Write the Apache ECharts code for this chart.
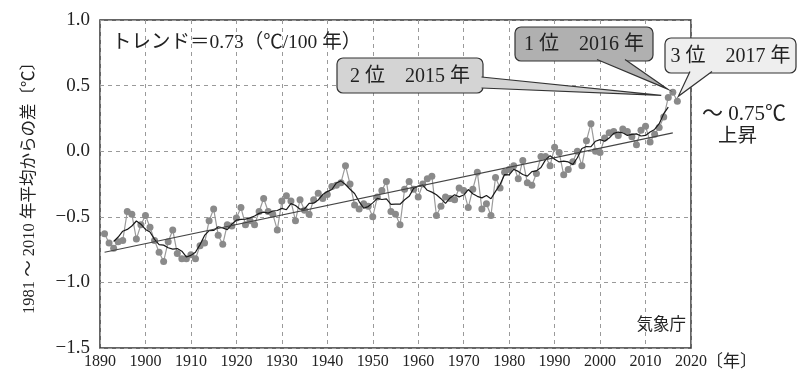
<!DOCTYPE html>
<html>
<head>
<meta charset="utf-8">
<script src="https://cdn.jsdelivr.net/npm/echarts@6/dist/echarts.min.js"></script>
<style>
  html, body { margin: 0; padding: 0; background: #fff; }
  #chart { width: 801px; height: 377px; }
</style>
</head>
<body>
<div id="chart"></div>
<script>
// Global mean surface temperature anomaly (deg C, relative to 1981-2010 mean)
const firstYear = 1891;
const anomalies = [
  -0.63, -0.70, -0.74, -0.69, -0.68, -0.46, -0.48, -0.67, -0.56, -0.49, // 1891-1900
  -0.58, -0.68, -0.77, -0.84, -0.69, -0.60, -0.78, -0.82, -0.82, -0.79, // 1901-1910
  -0.82, -0.72, -0.70, -0.53, -0.44, -0.64, -0.71, -0.56, -0.57, -0.51, // 1911-1920
  -0.43, -0.56, -0.53, -0.56, -0.46, -0.36, -0.46, -0.48, -0.60, -0.38, // 1921-1930
  -0.34, -0.38, -0.53, -0.37, -0.45, -0.48, -0.37, -0.32, -0.36, -0.33, // 1931-1940
  -0.27, -0.26, -0.24, -0.11, -0.25, -0.41, -0.44, -0.40, -0.42, -0.50, // 1941-1950
  -0.35, -0.30, -0.23, -0.46, -0.48, -0.56, -0.29, -0.23, -0.29, -0.35, // 1951-1960
  -0.25, -0.21, -0.19, -0.49, -0.42, -0.35, -0.36, -0.37, -0.28, -0.30, // 1961-1970
  -0.43, -0.29, -0.16, -0.44, -0.40, -0.49, -0.20, -0.28, -0.16, -0.14, // 1971-1980
  -0.11, -0.21, -0.07, -0.24, -0.26, -0.17, -0.04, -0.04, -0.11,  0.03, // 1981-1990
  -0.01, -0.18, -0.14, -0.08,  0.00, -0.11,  0.08,  0.21,  0.00, -0.01, // 1991-2000
   0.10,  0.14,  0.15,  0.12,  0.17,  0.15,  0.11,  0.05,  0.16,  0.19, // 2001-2010
   0.07,  0.13,  0.18,  0.26,  0.41,  0.45,  0.38                        // 2011-2017
];
// Linear trend (0.73 deg C / 100 years), end points
const trendLine = [[1891, -0.77], [2016, 0.14]];
// Ranked warmest years
const rankings = [
  { text: '1 位　2016 年', year: 2016, fill: '#b0b0b0' },
  { text: '2 位　2015 年', year: 2015, fill: '#d4d4d4' },
  { text: '3 位　2017 年', year: 2017, fill: '#eeeeee' }
];
const xTicks = { min: 1890, max: 2020, step: 10 };
const yTicks = { min: -1.5, max: 1.0, step: 0.5 };

const annual = anomalies.map((v, i) => [firstYear + i, v]);
// centred 5-year running mean of the annual values
const runningMean = [];
for (let i = 2; i < anomalies.length - 2; i++) {
  let s = 0;
  for (let k = -2; k <= 2; k++) s += anomalies[i + k];
  runningMean.push([firstYear + i, +(s / 5).toFixed(3)]);
}

const FONT = "'Liberation Serif', 'Noto Sans CJK JP', serif";
const chart = echarts.init(document.getElementById('chart'), null, { renderer: 'canvas' });

chart.setOption({
  animation: false,
  backgroundColor: '#ffffff',
  grid: {
    left: 100, right: 110, top: 20, bottom: 29,
    show: true, borderColor: '#333', borderWidth: 1.5, backgroundColor: 'transparent'
  },
  xAxis: {
    type: 'value', min: xTicks.min, max: xTicks.max, interval: xTicks.step,
    axisLine: { show: false },
    axisTick: { show: false },
    axisLabel: { color: '#222', fontFamily: FONT, fontSize: 16, margin: 6, formatter: v => String(v) },
    splitLine: { show: true, lineStyle: { color: '#9a9a9a', type: [4, 4], width: 1 } }
  },
  yAxis: {
    type: 'value', min: yTicks.min, max: yTicks.max, interval: yTicks.step,
    name: '1981 ～ 2010 年平均からの差〔℃〕',
    nameLocation: 'middle', nameRotate: 90, nameGap: 62,
    nameTextStyle: { color: '#222', fontFamily: FONT, fontSize: 16.5 },
    axisLine: { show: false },
    axisTick: { show: false },
    axisLabel: {
      color: '#222', fontFamily: FONT, fontSize: 19, margin: 10,
      formatter: v => v.toFixed(1).replace('-', '−')
    },
    splitLine: { show: true, lineStyle: { color: '#9a9a9a', type: [4, 4], width: 1 } }
  },
  series: [
    {
      name: 'annual', type: 'line', data: annual,
      symbol: 'circle', symbolSize: 7, showSymbol: true,
      lineStyle: { color: '#9a9a9a', width: 1.2 },
      itemStyle: { color: '#8a8a8a' },
      z: 2
    },
    {
      name: 'running mean', type: 'line', data: runningMean,
      symbol: 'none', lineStyle: { color: '#1a1a1a', width: 1.2 }, z: 3
    },
    {
      name: 'trend', type: 'line', data: trendLine,
      symbol: 'none', lineStyle: { color: '#444', width: 1.2 }, z: 3
    }
  ]
});

// annotations
function px(year) {
  const v = anomalies[year - firstYear];
  return chart.convertToPixel({ gridIndex: 0 }, [year, v]);
}
const textStyleBox = { fontFamily: FONT, fontSize: 20, fill: '#222' };
const boxLayout = {
  2016: { x: 515, y: 27, w: 138, h: 34, base: [[597, 59.5], [625, 59.5]], tipOff: [-5, -3] },
  2015: { x: 337, y: 58, w: 146, h: 35, base: [[481.5, 77], [481.5, 88]], tipOff: [-7, -2] },
  2017: { x: 665, y: 38, w: 131, h: 35, base: [[690, 71.5], [712, 71.5]], tipOff: [1, -5] }
};
const graphics = [];
rankings.forEach(r => {
  const L = boxLayout[r.year];
  const p = px(r.year);
  const tip = [p[0] + L.tipOff[0], p[1] + L.tipOff[1]];
  graphics.push({
    type: 'rect', z: 100,
    shape: { x: L.x, y: L.y, width: L.w, height: L.h, r: 6 },
    style: { fill: r.fill, stroke: '#333', lineWidth: 1.2 }
  });
  graphics.push({
    type: 'polygon', z: 101,
    shape: { points: [L.base[0], L.base[1], tip] },
    style: { fill: r.fill, stroke: null }
  });
  graphics.push({
    type: 'polyline', z: 102,
    shape: { points: [L.base[0], tip, L.base[1]] },
    style: { stroke: '#333', lineWidth: 1.2, fill: null }
  });
  graphics.push({
    type: 'text', z: 103,
    style: Object.assign({
      text: r.text, x: L.x + L.w / 2, y: L.y + L.h / 2 + 1,
      textAlign: 'center', textVerticalAlign: 'middle'
    }, textStyleBox)
  });
});
graphics.push(
  { type: 'text', z: 90, style: { text: 'トレンド＝0.73（℃/100 年）', x: 112, y: 43, textVerticalAlign: 'middle', fontFamily: FONT, fontSize: 19.5, fill: '#222' } },
  { type: 'text', z: 90, style: { text: '気象庁', x: 686, y: 326, textAlign: 'right', textVerticalAlign: 'middle', fontFamily: FONT, fontSize: 16.5, fill: '#222' } },
  { type: 'text', z: 90, style: { text: '～ 0.75℃', x: 702, y: 114, textVerticalAlign: 'middle', fontFamily: FONT, fontSize: 21, fill: '#222' } },
  { type: 'text', z: 90, style: { text: '上昇', x: 718, y: 137, textVerticalAlign: 'middle', fontFamily: FONT, fontSize: 19.5, fill: '#222' } },
  { type: 'text', z: 90, style: { text: '〔年〕', x: 706, y: 363, textVerticalAlign: 'middle', fontFamily: FONT, fontSize: 17, fill: '#222' } }
);
chart.setOption({ graphic: graphics });
</script>
</body>
</html>
